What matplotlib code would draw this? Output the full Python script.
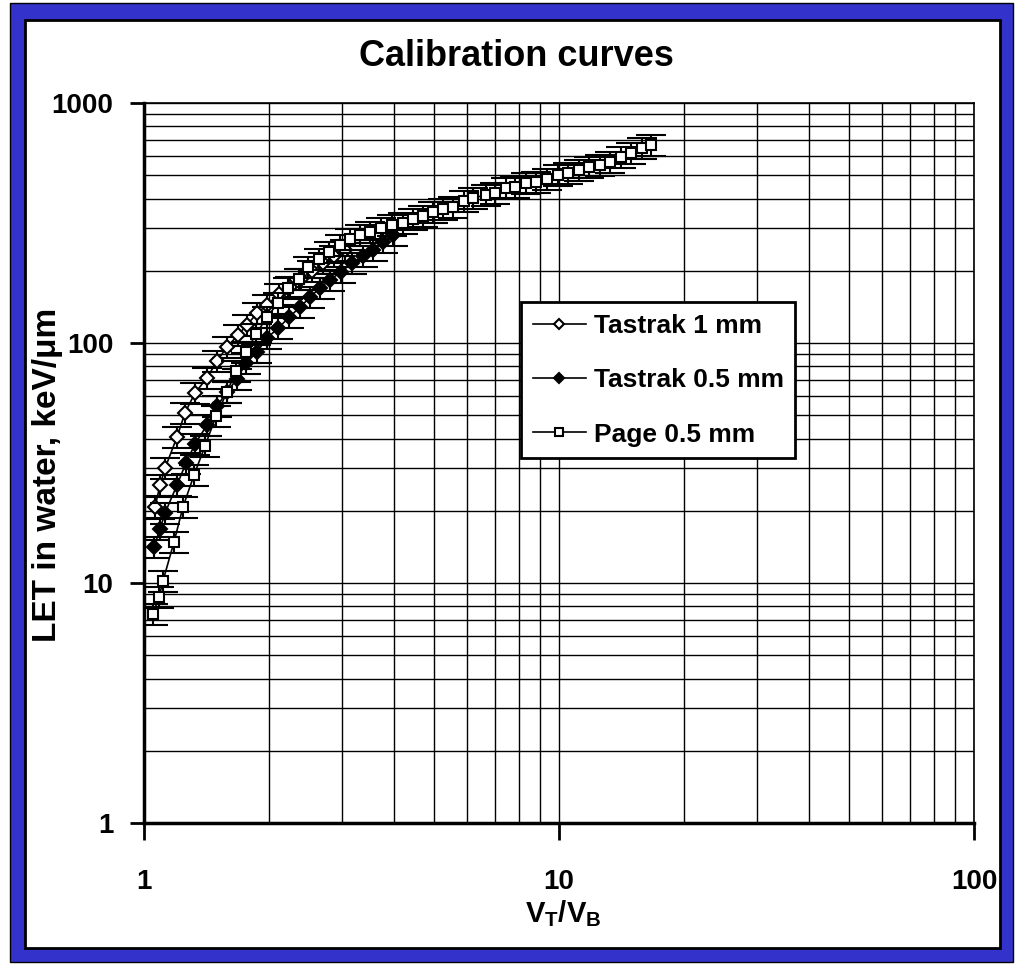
import numpy as np
import matplotlib
matplotlib.use("Agg")
import matplotlib.pyplot as plt
from matplotlib import font_manager
from matplotlib.patches import Rectangle
from matplotlib.ticker import FixedLocator, FixedFormatter, NullFormatter, LogLocator

# data (V_T/V_B vs LET in water, keV/um)
tas1_x = [1.063, 1.093, 1.124, 1.201, 1.255, 1.327, 1.418, 1.499, 1.585, 1.685,
          1.771, 1.872, 1.979, 2.115, 2.248, 2.389, 2.540, 2.700, 2.870, 3.050]
tas1_y = [20.7, 25.6, 30.1, 40.6, 51.1, 61.9, 71.5, 84.1, 96.2, 108,
          119, 133, 144, 160, 171, 185, 200, 215, 230, 244]

tas05_x = [1.057, 1.093, 1.124, 1.201, 1.262, 1.327, 1.418, 1.499, 1.585, 1.675,
           1.761, 1.872, 1.979, 2.103, 2.236, 2.376, 2.512, 2.656, 2.807, 2.984,
           3.171, 3.371, 3.563, 3.766, 3.981]
tas05_y = [14.1, 16.8, 19.6, 25.6, 31.6, 37.9, 45.5, 54.6, 62.5, 70.8,
           82.5, 91.7, 105, 115, 128, 141, 155, 170, 183, 198,
           215, 230, 244, 264, 282]

page_x = [1.051, 1.087, 1.111, 1.181, 1.241, 1.320, 1.403, 1.491, 1.585, 1.666,
          1.761, 1.862, 1.979, 2.103, 2.223, 2.363, 2.484, 2.641, 2.791, 2.967,
          3.135, 3.315, 3.504, 3.725, 3.959, 4.209, 4.449, 4.703, 4.971, 5.255,
          5.555, 5.904, 6.206, 6.671, 7.012, 7.452, 7.834, 8.328, 8.803, 9.357,
          9.945, 10.51, 11.17, 11.81, 12.56, 13.27, 14.11, 14.91, 15.85, 16.66]
page_y = [7.43, 8.74, 10.2, 14.8, 20.7, 28.2, 37.2, 49.6, 62.5, 76.4,
          91.7, 109, 128, 147, 170, 185, 207, 224, 239, 256,
          271, 282, 290, 301, 310, 316, 329, 338, 351, 362,
          369, 391, 402, 414, 422, 443, 447, 464, 469, 482,
          501, 511, 526, 541, 552, 568, 596, 619, 649, 668]

err_frac = 0.10  # relative error bar size seen on the chart

x_ticks = [1, 10, 100]
x_ticklabels = ["1", "10", "100"]
y_ticks = [1, 10, 100, 1000]
y_ticklabels = ["1", "10", "100", "1000"]

names = {f.name for f in font_manager.fontManager.ttflist}
if "Liberation Sans Narrow" in names:
    narrow = "Liberation Sans Narrow"
    tick_fs, leg_fs, xl_fs = 24, 23, 24
else:
    narrow = "Liberation Sans"
    tick_fs, leg_fs, xl_fs = 20, 19, 21

plt.rcParams["font.family"] = ["Liberation Sans", "DejaVu Sans"]
plt.rcParams["mathtext.fontset"] = "custom"
plt.rcParams["mathtext.bf"] = narrow + ":bold"
plt.rcParams["mathtext.rm"] = narrow + ":bold"

fig = plt.figure(figsize=(10.16, 9.66), dpi=100)
fig.patch.set_facecolor("white")

# blue frame around the whole chart
W, H = 1016.0, 966.0
fig.patches.append(Rectangle((10 / W, 1 - 962 / H), 1003 / W, 959 / H,
                             transform=fig.transFigure, facecolor="#3333cc",
                             edgecolor="black", linewidth=1, zorder=-2))
fig.patches.append(Rectangle((25 / W, 1 - 948 / H), 975 / W, 928 / H,
                             transform=fig.transFigure, facecolor="white",
                             edgecolor="black", linewidth=2, zorder=-1))

ax = fig.add_axes([144 / W, 1 - 823 / H, 830 / W, 720 / H])
ax.set_xscale("log")
ax.set_yscale("log")
ax.set_xlim(1, 100)
ax.set_ylim(1, 1000)

series = [
    (tas1_x, tas1_y, "D", "white", 7, "Tastrak 1 mm"),
    (tas05_x, tas05_y, "D", "black", 7, "Tastrak 0.5 mm"),
    (page_x, page_y, "s", "white", 7, "Page 0.5 mm"),
]
for i, (xs, ys, mk, fc, ms, lab) in enumerate(series):
    xs = np.array(xs)
    ys = np.array(ys)
    ax.errorbar(xs, ys, yerr=err_frac * ys, fmt="none", ecolor="black",
                elinewidth=1.5, capsize=11, capthick=1.5, zorder=3 + 2 * i)
    ax.plot(xs, ys, color="black", linewidth=1.2, marker=mk, markersize=ms,
            markerfacecolor=fc, markeredgecolor="black", markeredgewidth=1.5,
            label=lab, zorder=4 + 2 * i)

ax.xaxis.set_major_locator(FixedLocator(x_ticks))
ax.xaxis.set_major_formatter(FixedFormatter(x_ticklabels))
ax.yaxis.set_major_locator(FixedLocator(y_ticks))
ax.yaxis.set_major_formatter(FixedFormatter(y_ticklabels))
ax.xaxis.set_minor_locator(LogLocator(base=10, subs=np.arange(2, 10)))
ax.yaxis.set_minor_locator(LogLocator(base=10, subs=np.arange(2, 10)))
ax.xaxis.set_minor_formatter(NullFormatter())
ax.yaxis.set_minor_formatter(NullFormatter())

ax.grid(True, which="both", color="black", linewidth=1.0)
ax.set_axisbelow(True)
ax.tick_params(which="minor", length=0)
ax.tick_params(axis="x", which="major", direction="out", length=12, width=2, pad=21)
ax.tick_params(axis="y", which="major", direction="out", length=10, width=2, pad=12)
for lbl in ax.get_xticklabels() + ax.get_yticklabels():
    lbl.set_fontfamily(narrow)
    lbl.set_fontweight("bold")
    lbl.set_fontsize(tick_fs)

for side in ["left", "bottom"]:
    ax.spines[side].set_linewidth(2.5)
for side in ["top", "right"]:
    ax.spines[side].set_linewidth(1.2)

ax.set_xlabel(r"$\mathbf{V_T/V_B}$", fontsize=xl_fs)
ax.xaxis.set_label_coords(0.505, -0.104)
ax.xaxis.label.set_va("top")
ax.set_ylabel("LET in water, keV/\u03bcm", fontsize=24, fontweight="bold")
ax.yaxis.set_label_coords(-0.098, 0.483)

fig.text(516 / W, 1 - 57 / H, "Calibration curves", fontsize=26,
         fontweight="bold", ha="center", va="center")

leg = ax.legend(loc="upper left", bbox_to_anchor=((521 - 144) / 830, (823 - 302) / 720),
                prop={"family": narrow, "weight": "bold", "size": leg_fs},
                frameon=True, fancybox=False, framealpha=1, edgecolor="black",
                borderpad=0.45, labelspacing=1.15, handlelength=2.0,
                handletextpad=0.3, markerscale=0.75, borderaxespad=0)
leg.get_frame().set_linewidth(2)
leg.set_zorder(20)

fig.savefig("out.png", dpi=100)
